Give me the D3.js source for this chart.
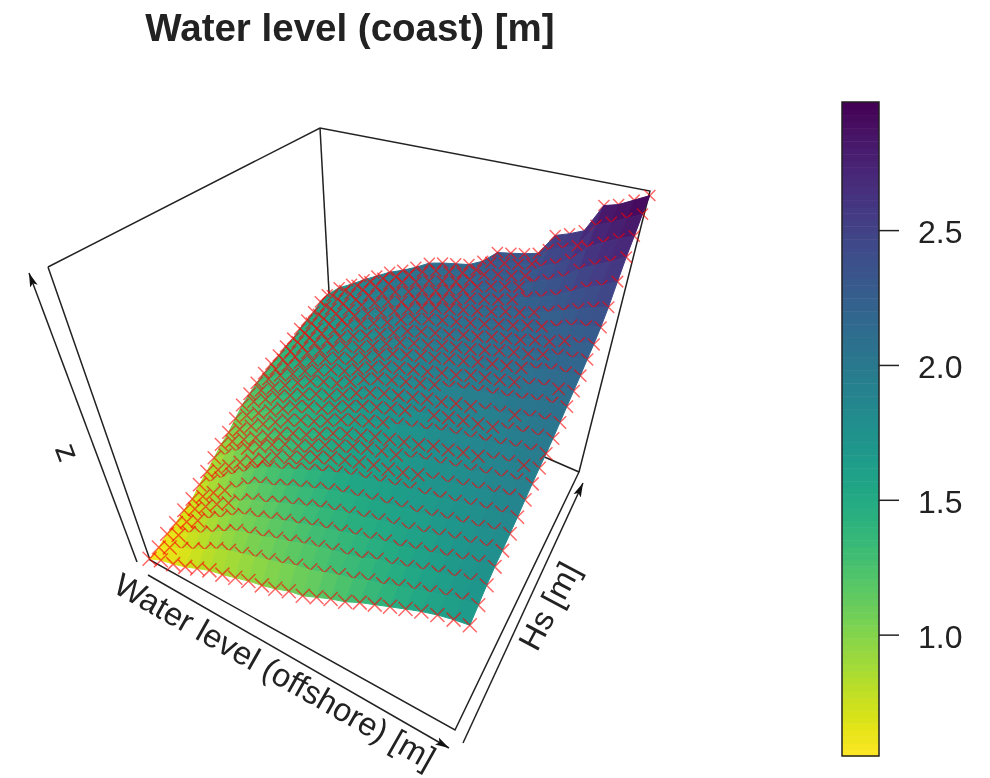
<!DOCTYPE html>
<html>
<head>
<meta charset="utf-8">
<script src="https://cdnjs.cloudflare.com/ajax/libs/d3/7.8.5/d3.min.js"></script>
<style>
  html, body { margin: 0; background: #fff; }
  svg { display: block; filter: blur(0.7px); }
  text { font-family: "Liberation Sans", Arial, sans-serif; fill: #222; }
</style>
</head>
<body>
<div id="chart"></div>
<script>
// grid of the surface (24 columns, 25 rows)
let waterLevels = [0, 0.1, 0.2, 0.3, 0.4, 0.5, 0.6, 0.7, 0.8, 0.9, 1, 1.1, 1.2, 1.3, 1.4, 1.5, 1.6, 1.7, 1.8, 1.9, 2, 2.1, 2.2, 2.3];
let waveHeights = [0, 0.25, 0.5, 0.75, 1, 1.25, 1.5, 1.75, 2, 2.25, 2.5, 2.75, 3, 3.25, 3.5, 3.75, 4, 4.25, 4.5, 4.75, 5, 5.25, 5.5, 5.75, 6];
let coastLevel = [
  [.56, .61, .64, .68, .73, .78, .81, .85, .89, .92, .96, 1.01, 1.04, 1.10, 1.16, 1.21, 1.28, 1.34, 1.40, 1.46, 1.52, 1.57, 1.61, 1.64],
  [.58, .64, .69, .75, .81, .88, .93, .97, 1.01, 1.05, 1.09, 1.14, 1.17, 1.22, 1.27, 1.31, 1.37, 1.41, 1.47, 1.52, 1.57, 1.62, 1.66, 1.69],
  [.62, .67, .75, .81, .88, .95, 1.02, 1.06, 1.10, 1.15, 1.19, 1.24, 1.28, 1.32, 1.35, 1.39, 1.45, 1.48, 1.53, 1.58, 1.63, 1.67, 1.71, 1.74],
  [.64, .71, .78, .86, .93, 1.01, 1.08, 1.12, 1.17, 1.22, 1.26, 1.31, 1.35, 1.39, 1.43, 1.46, 1.51, 1.53, 1.58, 1.62, 1.66, 1.70, 1.75, 1.78],
  [.68, .75, .83, .91, .98, 1.06, 1.13, 1.17, 1.23, 1.28, 1.33, 1.38, 1.42, 1.46, 1.49, 1.53, 1.56, 1.58, 1.62, 1.66, 1.70, 1.73, 1.77, 1.80],
  [.71, .79, .88, .96, 1.04, 1.13, 1.20, 1.24, 1.30, 1.35, 1.40, 1.45, 1.49, 1.52, 1.55, 1.58, 1.61, 1.63, 1.66, 1.70, 1.73, 1.76, 1.80, 1.83],
  [.77, .85, .94, 1.03, 1.11, 1.20, 1.27, 1.31, 1.37, 1.42, 1.47, 1.52, 1.56, 1.59, 1.62, 1.65, 1.68, 1.69, 1.72, 1.75, 1.78, 1.81, 1.84, 1.86],
  [.82, .89, .98, 1.07, 1.14, 1.21, 1.30, 1.34, 1.40, 1.46, 1.51, 1.55, 1.59, 1.62, 1.64, 1.67, 1.71, 1.73, 1.76, 1.79, 1.82, 1.85, 1.88, 1.90],
  [.88, .96, 1.05, 1.13, 1.20, 1.27, 1.33, 1.37, 1.43, 1.49, 1.54, 1.59, 1.63, 1.66, 1.68, 1.71, 1.75, 1.77, 1.80, 1.82, 1.85, 1.88, 1.91, 1.93],
  [.94, 1.02, 1.09, 1.16, 1.23, 1.30, 1.36, 1.40, 1.46, 1.52, 1.57, 1.61, 1.65, 1.68, 1.71, 1.74, 1.78, 1.80, 1.83, 1.85, 1.88, 1.91, 1.93, 1.96],
  [.99, 1.07, 1.15, 1.22, 1.29, 1.36, 1.41, 1.45, 1.51, 1.57, 1.62, 1.66, 1.70, 1.73, 1.76, 1.79, 1.83, 1.85, 1.87, 1.89, 1.91, 1.94, 1.96, 1.98],
  [1.06, 1.14, 1.21, 1.28, 1.35, 1.42, 1.47, 1.50, 1.56, 1.62, 1.67, 1.71, 1.75, 1.78, 1.81, 1.83, 1.86, 1.88, 1.90, 1.92, 1.95, 1.97, 1.99, 2.01],
  [1.13, 1.21, 1.28, 1.35, 1.41, 1.47, 1.52, 1.55, 1.61, 1.67, 1.72, 1.76, 1.79, 1.82, 1.85, 1.87, 1.90, 1.92, 1.94, 1.96, 1.98, 2.01, 2.03, 2.05],
  [1.18, 1.26, 1.33, 1.40, 1.47, 1.53, 1.57, 1.60, 1.66, 1.73, 1.78, 1.81, 1.84, 1.87, 1.90, 1.92, 1.95, 1.97, 1.99, 2.01, 2.03, 2.06, 2.08, 2.09],
  [1.23, 1.31, 1.39, 1.45, 1.52, 1.57, 1.62, 1.65, 1.71, 1.77, 1.82, 1.85, 1.88, 1.90, 1.93, 1.95, 1.99, 2.01, 2.03, 2.05, 2.07, 2.10, 2.11, 2.13],
  [1.27, 1.35, 1.43, 1.50, 1.56, 1.62, 1.67, 1.70, 1.76, 1.82, 1.87, 1.90, 1.93, 1.95, 1.98, 2.00, 2.03, 2.05, 2.07, 2.09, 2.12, 2.15, 2.16, 2.17],
  [1.31, 1.39, 1.46, 1.54, 1.60, 1.67, 1.72, 1.75, 1.80, 1.86, 1.91, 1.94, 1.96, 1.99, 2.01, 2.03, 2.06, 2.09, 2.11, 2.13, 2.16, 2.19, 2.20, 2.22],
  [1.34, 1.42, 1.50, 1.58, 1.64, 1.71, 1.76, 1.80, 1.85, 1.90, 1.95, 1.98, 2.00, 2.02, 2.05, 2.07, 2.10, 2.12, 2.14, 2.17, 2.19, 2.23, 2.24, 2.26],
  [1.38, 1.46, 1.54, 1.62, 1.69, 1.77, 1.82, 1.86, 1.90, 1.96, 2.00, 2.03, 2.05, 2.07, 2.09, 2.11, 2.14, 2.16, 2.19, 2.21, 2.24, 2.28, 2.30, 2.32],
  [1.41, 1.50, 1.58, 1.66, 1.73, 1.81, 1.86, 1.90, 1.95, 2.00, 2.04, 2.07, 2.09, 2.11, 2.13, 2.15, 2.18, 2.20, 2.23, 2.26, 2.30, 2.34, 2.38, 2.41],
  [1.46, 1.55, 1.63, 1.71, 1.78, 1.86, 1.91, 1.95, 1.98, 2.03, 2.06, 2.09, 2.11, 2.15, 2.17, 2.19, 2.22, 2.26, 2.29, 2.33, 2.39, 2.45, 2.49, 2.55],
  [1.50, 1.59, 1.68, 1.76, 1.83, 1.90, 1.95, 1.99, 2.02, 2.06, 2.08, 2.11, 2.14, 2.19, 2.22, 2.24, 2.26, 2.33, 2.37, 2.42, 2.51, 2.57, 2.62, 2.68],
  [1.54, 1.63, 1.73, 1.81, 1.88, 1.94, 1.99, 2.03, 2.06, 2.09, 2.11, 2.13, 2.17, 2.24, 2.26, 2.27, 2.29, 2.40, 2.44, 2.50, 2.63, 2.69, 2.74, 2.78],
  [1.60, 1.69, 1.77, 1.85, 1.91, 1.97, 2.01, 2.05, 2.10, 2.13, 2.14, 2.15, 2.20, 2.29, 2.30, 2.31, 2.33, 2.48, 2.51, 2.55, 2.75, 2.79, 2.84, 2.89],
  [1.63, 1.73, 1.79, 1.86, 1.92, 1.98, 2.02, 2.07, 2.13, 2.15, 2.16, 2.17, 2.22, 2.32, 2.33, 2.34, 2.36, 2.54, 2.57, 2.61, 2.85, 2.87, 2.92, 2.97]
];
let zLimits = [0.55, 2.975];
let legendTicks = [1, 1.5, 2, 2.5];

let width = 990,
height = 778;

// corners of the view, in the order (xmin,ymin) (xmax,ymin) (xmax,ymax) (xmin,ymax)
let surfaceFloor = [[150, 560], [455, 730], [580, 470], [333, 395]];
let surfaceCeil = [[48, 267], [488, 497], [650, 195], [320, 170]];
let boxFloor = [[150, 560], [455, 730], [579, 472], [333, 365]];
let boxCeil = [[48, 267], [488, 497], [650, 191], [320, 128]];

let xPos = d3.scaleLinear().domain(d3.extent(waterLevels)).range([0, 1]);
let yPos = d3.scaleLinear().domain(d3.extent(waveHeights)).range([0, 1]);
let zPos = d3.scaleLinear().domain(zLimits).range([0, 1]);
let color = d3.scaleSequential(t => d3.interpolateViridis(1 - t)).domain(zLimits);
let crossSize = d3.scaleLinear().domain(d3.extent(waveHeights)).range([7, 5.5]);

function quad(q, u, v) {
  return [0, 1].map(k => (1 - v) * ((1 - u) * q[0][k] + u * q[1][k]) + v * ((1 - u) * q[3][k] + u * q[2][k]));
}

// rows get closer together towards the back
function foreshorten(p) {
  return p / (0.75 + p * 0.25);
}

function project(i, j) {
  let u = xPos(waterLevels[i]),
  v = foreshorten(yPos(waveHeights[j])),
  h = zPos(coastLevel[j][i]),
  a = quad(surfaceFloor, u, v),
  b = quad(surfaceCeil, u, v);
  return [a[0] + h * (b[0] - a[0]), a[1] + h * (b[1] - a[1])];
}

let svg = d3.select("#chart")
.append("svg")
.attr("width", width)
.attr("height", height);

svg.append("text")
.attr("x", 350)
.attr("y", 41)
.attr("text-anchor", "middle")
.style("font-size", "38.5px")
.style("font-weight", "bold")
.text("Water level (coast) [m]");

// box behind the surface
let frame = svg.append("g")
.attr("fill", "none")
.attr("stroke", "#222")
.attr("stroke-width", 1.5);

let line = d3.line();
[
  [boxCeil[0], boxFloor[0], boxFloor[1], boxFloor[2], boxFloor[3]],
  [boxFloor[2], boxCeil[2], boxCeil[3], boxCeil[0]],
  [boxCeil[3], boxFloor[3]]
].forEach(d => frame.append("path").attr("d", line(d)));

// axis arrows, a bit outside of the box
let arrows = [
  [[137, 562], [29, 273]],
  [[148, 575], [449, 748]],
  [[463, 743], [583, 483]]
];

svg.append("defs").append("marker")
.attr("id", "head")
.attr("viewBox", "0 -5 14 10")
.attr("refX", 14)
.attr("markerWidth", 14)
.attr("markerHeight", 10)
.attr("markerUnits", "userSpaceOnUse")
.attr("orient", "auto")
.append("path")
.attr("d", "M0,-4L14,0L0,4L3,0Z")
.attr("fill", "#111");

svg.selectAll(".arrow")
.data(arrows)
.enter()
.append("path")
.classed("arrow", true)
.attr("d", line)
.attr("fill", "none")
.attr("stroke", "#222")
.attr("stroke-width", 1.5)
.attr("marker-end", "url(#head)");

// axis titles
let titles = [
  {label: "z", x: 68, y: 452, angle: 69},
  {label: "Water level (offshore) [m]", x: 275, y: 671, angle: 29.5},
  {label: "Hs [m]", x: 549, y: 606, angle: -62}
];

svg.selectAll(".title")
.data(titles)
.enter()
.append("text")
.classed("title", true)
.attr("transform", d => "translate(" + d.x + "," + d.y + ") rotate(" + d.angle + ")")
.attr("text-anchor", "middle")
.attr("dy", "0.35em")
.style("font-size", "32.5px")
.text(d => d.label);

// back to front: crosses of a row, then the facets in front of them hide their lower half.
// where rows are squeezed together the crosses stay on top and make a lattice
let surface = svg.append("g");
let rows = d3.range(waveHeights.length - 1, -1, -1);
let latticeGap = 14.5;

function rowGap(i, j) {
  return j > 0 ? project(i, j - 1)[1] - project(i, j)[1] : 99;
}

function drawCrosses(row, j, keep) {
  let s = crossSize(waveHeights[j]);
  row.selectAll(null)
  .data(d3.range(waterLevels.length).filter(keep))
  .enter()
  .append("path")
  .attr("d", i => {
    let p = project(i, j), path = d3.path();
    path.moveTo(p[0] - s, p[1] - s);
    path.lineTo(p[0] + s, p[1] + s);
    path.moveTo(p[0] + s, p[1] - s);
    path.lineTo(p[0] - s, p[1] + s);
    return path;
  })
  .attr("stroke", "#ff0000")
  .attr("stroke-opacity", 0.6)
  .attr("stroke-width", 1.5)
  .attr("fill", "none");
}

rows.forEach(j => {
  let row = surface.append("g");

  drawCrosses(row, j, i => rowGap(i, j) >= latticeGap);

  if (j > 0) {
    row.selectAll("polygon")
    .data(d3.range(waterLevels.length - 1))
    .enter()
    .append("polygon")
    .attr("points", i => [project(i, j), project(i + 1, j), project(i + 1, j - 1), project(i, j - 1)].join(" "))
    .attr("fill", i => color((coastLevel[j][i] + coastLevel[j][i + 1] + coastLevel[j - 1][i] + coastLevel[j - 1][i + 1]) / 4))
    .attr("stroke", i => color((coastLevel[j][i] + coastLevel[j][i + 1] + coastLevel[j - 1][i] + coastLevel[j - 1][i + 1]) / 4))
    .attr("stroke-width", 1);
  }

  drawCrosses(row, j, i => rowGap(i, j) < latticeGap);
});

// colour key
let legendScale = d3.scaleLinear().domain(zLimits).range([756, 102]);
let legend = svg.append("g");
let steps = d3.range(100).map(d => zLimits[0] + (zLimits[1] - zLimits[0]) * d / 100);
let stepValue = (zLimits[1] - zLimits[0]) / 100;

legend.selectAll("rect")
.data(steps)
.enter()
.append("rect")
.attr("x", 842)
.attr("width", 37)
.attr("y", d => legendScale(d + stepValue))
.attr("height", d => legendScale(d) - legendScale(d + stepValue) + 0.5)
.attr("fill", d => color(d + stepValue / 2));

legend.append("rect")
.attr("x", 842)
.attr("y", 102)
.attr("width", 37)
.attr("height", 654)
.attr("fill", "none")
.attr("stroke", "#222")
.attr("stroke-width", 1.5);

let legendAxis = d3.axisRight(legendScale)
.tickValues(legendTicks)
.tickFormat(d3.format(".1f"))
.tickSize(20)
.tickPadding(19);

let axisG = legend.append("g")
.attr("transform", "translate(879,0)")
.call(legendAxis);

axisG.select(".domain").remove();
axisG.selectAll("line").attr("stroke", "#222").attr("stroke-width", 1.5);
axisG.selectAll("text").style("font-size", "32px").attr("fill", "#222").attr("dy", "0.4em");
</script>
</body>
</html>
